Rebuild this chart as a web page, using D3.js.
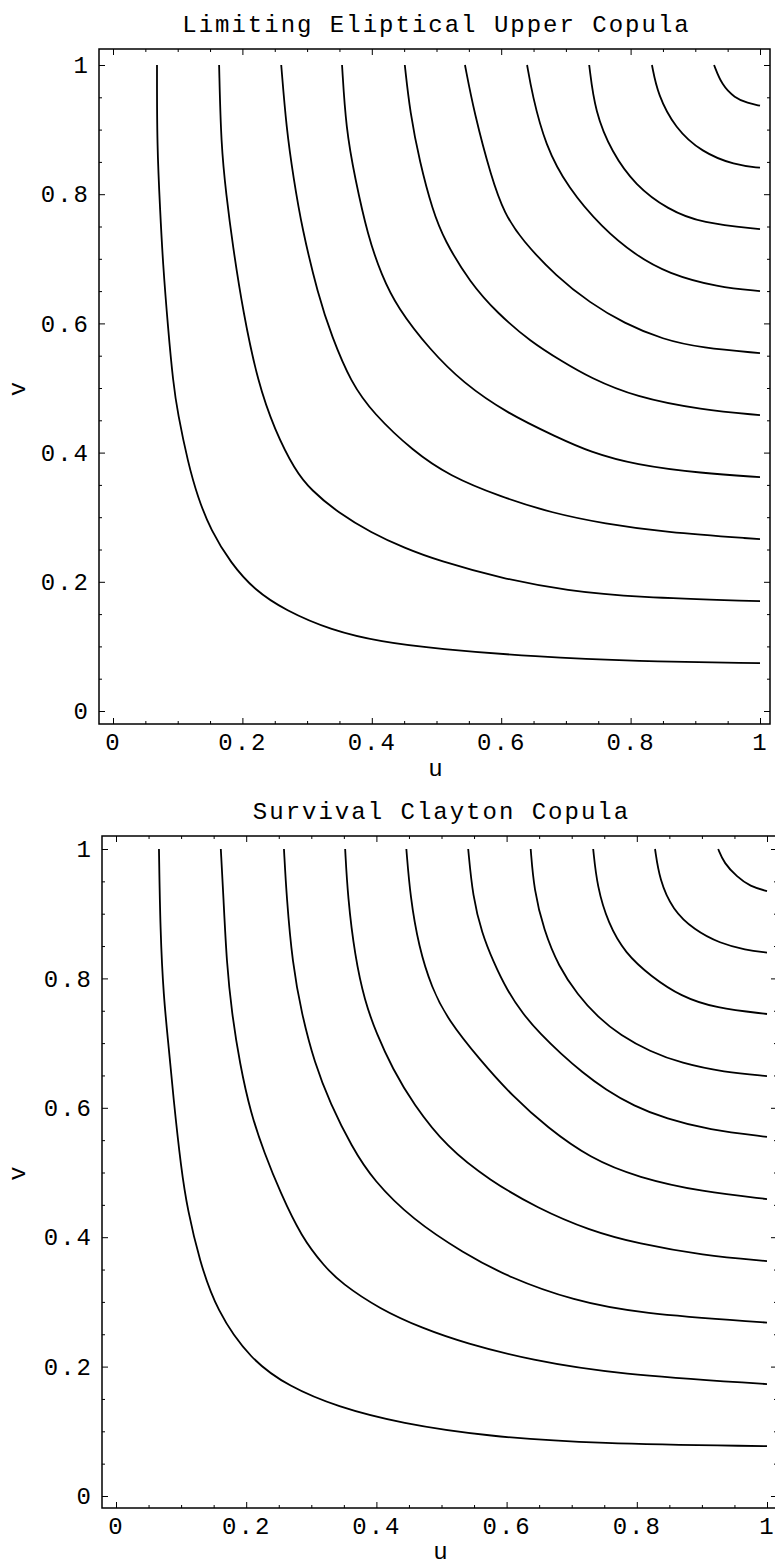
<!DOCTYPE html>
<html lang="en">
<head>
<meta charset="UTF-8">
<title>Copula contour plots</title>
<script src="https://d3js.org/d3.v7.min.js"></script>
<style>
    body { margin: 0; background: #fff; }
    svg { display: block; }
    .txt {
        font-family: "Liberation Mono", "Courier New", monospace;
        font-size: 24px;
        letter-spacing: 2px;
        fill: #000;
    }
</style>
</head>
<body>
<div id="chart"></div>
<script>
// titles and ticks
const titles = ["Limiting Eliptical Upper Copula", "Survival Clayton Copula"];
const majorTicks = [0, 0.2, 0.4, 0.6, 0.8, 1];
const tickLabels = ["0", "0.2", "0.4", "0.6", "0.8", "1"];
const minorTicks = [0.05, 0.1, 0.15, 0.25, 0.3, 0.35, 0.45, 0.5, 0.55, 0.65, 0.7, 0.75, 0.85, 0.9, 0.95];

// contour lines [u, v] (top panel)
const ellipticalCurves = [
    [[0.068,1.0],[0.068,0.876],[0.073,0.772],[0.077,0.695],[0.085,0.593],[0.093,0.508],[0.100,0.461],[0.116,0.384],[0.131,0.331],[0.151,0.280],[0.182,0.229],[0.219,0.187],[0.266,0.156],[0.337,0.125],[0.414,0.107],[0.502,0.096],[0.652,0.084],[0.807,0.077],[1,0.074]],
    [[0.164,1.0],[0.167,0.876],[0.175,0.799],[0.185,0.721],[0.201,0.618],[0.224,0.508],[0.250,0.435],[0.281,0.373],[0.306,0.342],[0.348,0.307],[0.399,0.276],[0.451,0.252],[0.502,0.233],[0.601,0.205],[0.703,0.186],[0.807,0.176],[1,0.170]],
    [[0.260,1.0],[0.268,0.902],[0.279,0.825],[0.292,0.748],[0.317,0.644],[0.338,0.580],[0.368,0.508],[0.402,0.461],[0.464,0.402],[0.520,0.364],[0.598,0.332],[0.680,0.306],[0.760,0.290],[0.850,0.277],[1,0.266]],
    [[0.354,1.0],[0.360,0.902],[0.374,0.825],[0.394,0.735],[0.415,0.675],[0.439,0.625],[0.490,0.559],[0.541,0.508],[0.609,0.461],[0.686,0.424],[0.737,0.401],[0.807,0.381],[0.910,0.368],[1,0.362]],
    [[0.451,1.0],[0.459,0.927],[0.474,0.850],[0.494,0.775],[0.512,0.729],[0.552,0.663],[0.594,0.616],[0.645,0.572],[0.696,0.540],[0.737,0.516],[0.807,0.486],[0.910,0.466],[1,0.458]],
    [[0.544,1.0],[0.558,0.927],[0.585,0.825],[0.605,0.770],[0.632,0.729],[0.686,0.672],[0.737,0.632],[0.790,0.600],[0.850,0.575],[0.910,0.562],[1,0.554]],
    [[0.640,1.0],[0.648,0.954],[0.668,0.876],[0.703,0.810],[0.756,0.748],[0.807,0.706],[0.858,0.677],[0.935,0.656],[1,0.650]],
    [[0.736,1.0],[0.745,0.927],[0.771,0.865],[0.807,0.814],[0.858,0.776],[0.910,0.755],[1,0.746]],
    [[0.833,1.0],[0.842,0.954],[0.869,0.902],[0.910,0.865],[0.961,0.845],[1,0.841]],
    [[0.929,1.0],[0.941,0.969],[0.961,0.949],[0.981,0.941],[1,0.937]]
];

// bottom panel
const claytonCurves = [
    [[0.066,1.0],[0.068,0.875],[0.073,0.772],[0.081,0.694],[0.088,0.617],[0.100,0.506],[0.110,0.442],[0.128,0.365],[0.154,0.287],[0.207,0.210],[0.266,0.169],[0.339,0.138],[0.438,0.112],[0.571,0.092],[0.736,0.081],[1,0.077]],
    [[0.161,1.0],[0.165,0.926],[0.170,0.823],[0.178,0.746],[0.190,0.669],[0.207,0.591],[0.228,0.530],[0.252,0.470],[0.285,0.400],[0.320,0.355],[0.346,0.329],[0.405,0.289],[0.471,0.259],[0.537,0.236],[0.637,0.210],[0.769,0.188],[1,0.173]],
    [[0.258,1.0],[0.262,0.926],[0.271,0.823],[0.285,0.746],[0.305,0.669],[0.329,0.607],[0.362,0.540],[0.395,0.488],[0.456,0.427],[0.533,0.376],[0.605,0.337],[0.703,0.302],[0.802,0.282],[1,0.268]],
    [[0.352,1.0],[0.356,0.926],[0.367,0.834],[0.382,0.765],[0.400,0.715],[0.425,0.660],[0.456,0.607],[0.508,0.539],[0.574,0.488],[0.647,0.445],[0.728,0.410],[0.802,0.390],[0.901,0.372],[1,0.363]],
    [[0.446,1.0],[0.452,0.926],[0.465,0.849],[0.485,0.785],[0.510,0.736],[0.559,0.674],[0.610,0.617],[0.662,0.570],[0.728,0.522],[0.802,0.492],[0.901,0.470],[1,0.459]],
    [[0.541,1.0],[0.548,0.926],[0.562,0.870],[0.580,0.825],[0.600,0.783],[0.625,0.745],[0.652,0.714],[0.683,0.684],[0.716,0.655],[0.752,0.628],[0.795,0.603],[0.845,0.583],[0.910,0.566],[1,0.555]],
    [[0.637,1.0],[0.642,0.937],[0.657,0.875],[0.680,0.818],[0.709,0.775],[0.740,0.740],[0.775,0.712],[0.820,0.687],[0.868,0.669],[0.934,0.655],[1,0.649]],
    [[0.733,1.0],[0.739,0.942],[0.756,0.885],[0.782,0.839],[0.822,0.803],[0.868,0.772],[0.921,0.754],[1,0.745]],
    [[0.828,1.0],[0.835,0.952],[0.855,0.906],[0.888,0.875],[0.928,0.854],[0.967,0.844],[1,0.840]],
    [[0.925,1.0],[0.934,0.978],[0.954,0.957],[0.974,0.942],[1,0.935]]
];

const W = 775, H = 1567;

const panels = [
    { title: titles[0], curves: ellipticalCurves,
      frame: { l: 99, t: 49, r: 770, b: 724 }, xr: [113, 760], yr: [711, 65], uy: 776 },
    { title: titles[1], curves: claytonCurves,
      frame: { l: 102, t: 836, r: 777, b: 1508 }, xr: [116, 767], yr: [1496, 849], uy: 1559 }
];

const svg = d3.select("#chart")
    .append("svg")
    .attr("width", W)
    .attr("height", H);

const fmt = d => tickLabels[majorTicks.indexOf(d)];

function styleAxis(sel) {
    sel.select(".domain").remove();
    sel.attr("font-family", null).attr("font-size", null);
    sel.selectAll("line").attr("stroke", "#000").attr("stroke-width", 1);
    sel.selectAll("text").attr("class", "txt").attr("fill", null);
}

function drawPanel(p) {
    const f = p.frame;
    const x = d3.scaleLinear().domain([0, 1]).range(p.xr);
    const y = d3.scaleLinear().domain([0, 1]).range(p.yr);
    const g = svg.append("g");

    // contours
    const line = d3.line()
        .x(d => x(d[0]))
        .y(d => y(d[1]))
        .curve(d3.curveBasis);

    g.selectAll("path.contour")
        .data(p.curves)
        .join("path")
        .attr("class", "contour")
        .attr("d", line)
        .attr("fill", "none")
        .attr("stroke", "#000")
        .attr("stroke-width", 1.8);

    // frame
    g.append("rect")
        .attr("x", f.l)
        .attr("y", f.t)
        .attr("width", f.r - f.l)
        .attr("height", f.b - f.t)
        .attr("fill", "none")
        .attr("stroke", "#000")
        .attr("stroke-width", 1.5);

    // ticks on all four sides, pointing inward
    const sides = [
        { axis: d3.axisBottom(x), tr: `translate(0,${f.b})`, lab: true },
        { axis: d3.axisLeft(y), tr: `translate(${f.l},0)`, lab: true },
        { axis: d3.axisTop(x), tr: `translate(0,${f.t})`, lab: false },
        { axis: d3.axisRight(y), tr: `translate(${f.r},0)`, lab: false }
    ];
    sides.forEach(s => {
        g.append("g")
            .attr("transform", s.tr)
            .call(s.axis.tickValues(majorTicks).tickSize(-6).tickPadding(9)
                .tickFormat(s.lab ? fmt : ""))
            .call(styleAxis);
        g.append("g")
            .attr("transform", s.tr)
            .call(s.axis.tickValues(minorTicks).tickSize(-3).tickFormat(""))
            .call(styleAxis);
    });

    // title and axis names
    const cx = (p.xr[0] + p.xr[1]) / 2;
    const cy = (p.yr[0] + p.yr[1]) / 2;
    g.append("text")
        .attr("class", "txt")
        .attr("x", cx)
        .attr("y", f.t - 17)
        .attr("text-anchor", "middle")
        .text(p.title);

    g.append("text")
        .attr("class", "txt")
        .attr("x", cx)
        .attr("y", p.uy)
        .attr("text-anchor", "middle")
        .text("u");

    g.append("text")
        .attr("class", "txt")
        .attr("transform", `translate(25,${cy}) rotate(-90)`)
        .attr("text-anchor", "middle")
        .text("v");
}

panels.forEach(drawPanel);
</script>
</body>
</html>
